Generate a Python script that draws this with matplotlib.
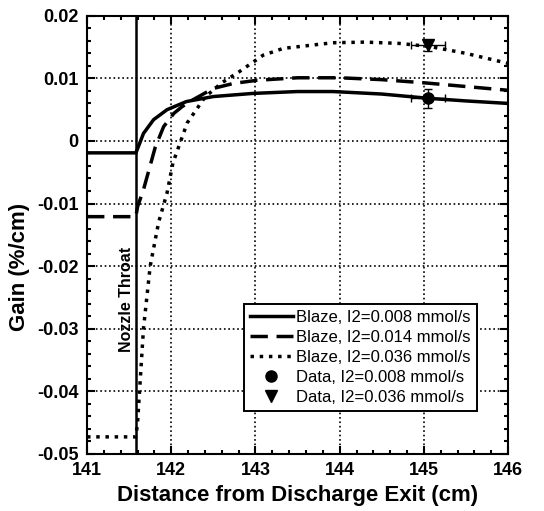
import matplotlib
matplotlib.use("Agg")
import matplotlib.pyplot as plt
from matplotlib.lines import Line2D
from matplotlib.ticker import MultipleLocator

plt.rcParams["font.family"] = ["Liberation Sans", "DejaVu Sans"]

throat = 141.58

x_low = [141.0, 141.58, 141.61, 141.67, 141.79, 141.95, 142.18, 142.5, 142.97, 143.5, 143.92, 144.5, 145.07, 145.5, 146.0]
g_low = [-0.0019, -0.0019, -0.0009, 0.0012, 0.0034, 0.0050, 0.0063, 0.0071, 0.0076, 0.0079, 0.0079, 0.0075, 0.0068, 0.0064, 0.0060]

x_mid = [141.0, 141.58, 141.6, 141.67, 141.81, 141.91, 142.03, 142.13, 142.26, 142.5, 142.74, 143.02, 143.5, 144.0, 144.5, 145.0, 145.5, 146.0]
g_mid = [-0.0121, -0.0121, -0.0105, -0.0078, -0.0010, 0.0023, 0.0044, 0.0055, 0.0066, 0.0084, 0.0092, 0.0097, 0.0101, 0.0101, 0.0098, 0.0093, 0.0087, 0.0081]

x_high = [141.0, 141.58, 141.6, 141.67, 141.75, 141.85, 141.95, 142.02, 142.19, 142.4, 142.6, 142.8, 143.09, 143.33, 143.92, 144.3, 144.7, 145.07, 145.5, 146.0]
g_high = [-0.0473, -0.0473, -0.045, -0.030, -0.020, -0.013, -0.0083, -0.0035, 0.0029, 0.0070, 0.0093, 0.0110, 0.0137, 0.0148, 0.0157, 0.0158, 0.0156, 0.0151, 0.0140, 0.0124]

data_x = [145.05, 145.05]
data_g = [0.0068, 0.0153]
data_xerr = [0.2, 0.2]
data_gerr = [0.0015, 0.0009]

fig, ax = plt.subplots(figsize=(5.44, 5.11), dpi=100)
fig.subplots_adjust(left=0.16, right=0.934, top=0.969, bottom=0.112)

ax.plot(x_low, g_low, "k-", lw=2.5)
ax.plot(x_mid, g_mid, "k--", lw=2.5, dashes=(5, 2.5))
ax.plot(x_high, g_high, "k:", lw=2.5)
ax.errorbar(data_x[0], data_g[0], xerr=data_xerr[0], yerr=data_gerr[0], fmt="o", color="k",
            ms=8, capsize=3, lw=1)
ax.errorbar(data_x[1], data_g[1], xerr=data_xerr[1], yerr=data_gerr[1], fmt="v", color="k",
            ms=9, capsize=3, lw=1)

ax.axvline(throat, color="k", lw=1.8)
ax.text(141.47, -0.0254, "Nozzle Throat", rotation=90, ha="center", va="center",
        fontsize=11.5, fontweight="bold")

ax.set_xlim(141, 146)
ax.set_ylim(-0.05, 0.02)
ax.xaxis.set_major_locator(MultipleLocator(1))
ax.xaxis.set_minor_locator(MultipleLocator(0.2))
ax.yaxis.set_minor_locator(MultipleLocator(0.002))
ax.set_yticks([-0.05, -0.04, -0.03, -0.02, -0.01, 0, 0.01, 0.02])
ax.set_yticklabels(["-0.05", "-0.04", "-0.03", "-0.02", "-0.01", "0", "0.01", "0.02"])
ax.tick_params(which="both", direction="in", top=True, right=True, width=1.5)
ax.tick_params(which="major", length=6, labelsize=13, pad=6)
ax.tick_params(which="minor", length=3)
for lab in ax.get_xticklabels() + ax.get_yticklabels():
    lab.set_fontweight("bold")
for sp in ax.spines.values():
    sp.set_linewidth(1.5)

ax.grid(True, which="major", color="k", linestyle=":", lw=1.2)
ax.set_xlabel("Distance from Discharge Exit (cm)", fontsize=16, fontweight="bold", labelpad=4)
ax.set_ylabel("Gain (%/cm)", fontsize=16, fontweight="bold")
ax.yaxis.set_label_coords(-0.135, 0.427)

handles = [
    Line2D([], [], color="k", lw=2.5, ls="-"),
    Line2D([], [], color="k", lw=2.5, ls="--", dashes=(5, 2.5)),
    Line2D([], [], color="k", lw=2.5, ls=":"),
    Line2D([], [], color="k", marker="o", ls="none", ms=8),
    Line2D([], [], color="k", marker="v", ls="none", ms=9),
]
labels = ["Blaze, I2=0.008 mmol/s", "Blaze, I2=0.014 mmol/s", "Blaze, I2=0.036 mmol/s",
          "Data, I2=0.008 mmol/s", "Data, I2=0.036 mmol/s"]
leg = ax.legend(handles, labels, loc="upper left", bbox_to_anchor=(0.372, 0.342), fontsize=12,
                frameon=True, fancybox=False, edgecolor="k", framealpha=1, handlelength=2.6,
                handletextpad=0.2, borderpad=0.35, labelspacing=0.3, borderaxespad=0)
leg.get_frame().set_linewidth(1.4)

fig.savefig("out.png", dpi=100)
